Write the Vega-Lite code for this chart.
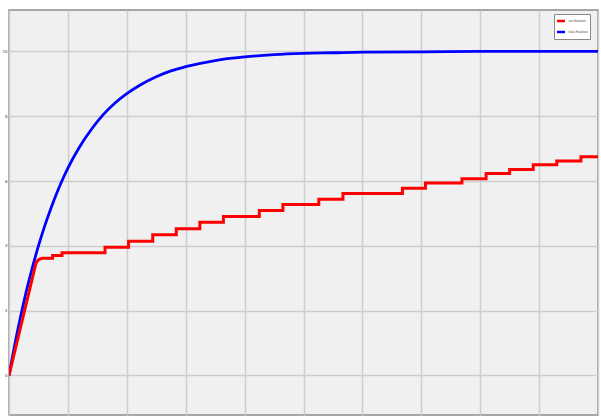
{
  "$schema": "https://vega.github.io/schema/vega-lite/v6.json",
  "width": 589,
  "height": 405,
  "autosize": {"type": "none"},
  "padding": {"left": 9, "top": 10, "right": 3, "bottom": 3},
  "background": "#ffffff",
  "config": {
    "view": {"fill": "#f0f0f0", "stroke": "#8c8c8c", "strokeWidth": 1.5},
    "axis": {
      "domain": false,
      "gridColor": "#cdcdcd",
      "gridWidth": 1.5,
      "ticks": false,
      "labelFont": "DejaVu Sans",
      "labelFontSize": 4,
      "labelColor": "#444444",
      "title": null
    }
  },
  "data": {
    "values": [
      {"series": "Soll-Position", "i": 0, "t": 0, "v": 0},
      {"series": "Soll-Position", "i": 1, "t": 0.1, "v": 0.97},
      {"series": "Soll-Position", "i": 2, "t": 0.2, "v": 1.85},
      {"series": "Soll-Position", "i": 3, "t": 0.3, "v": 2.64},
      {"series": "Soll-Position", "i": 4, "t": 0.4, "v": 3.35},
      {"series": "Soll-Position", "i": 5, "t": 0.5, "v": 4.0},
      {"series": "Soll-Position", "i": 6, "t": 0.6, "v": 4.58},
      {"series": "Soll-Position", "i": 7, "t": 0.7, "v": 5.1},
      {"series": "Soll-Position", "i": 8, "t": 0.8, "v": 5.58},
      {"series": "Soll-Position", "i": 9, "t": 0.9, "v": 6.01},
      {"series": "Soll-Position", "i": 10, "t": 1.0, "v": 6.4},
      {"series": "Soll-Position", "i": 11, "t": 1.2, "v": 7.06},
      {"series": "Soll-Position", "i": 12, "t": 1.4, "v": 7.6},
      {"series": "Soll-Position", "i": 13, "t": 1.6, "v": 8.05},
      {"series": "Soll-Position", "i": 14, "t": 1.8, "v": 8.41},
      {"series": "Soll-Position", "i": 15, "t": 2.0, "v": 8.7},
      {"series": "Soll-Position", "i": 16, "t": 2.25, "v": 8.99},
      {"series": "Soll-Position", "i": 17, "t": 2.5, "v": 9.22},
      {"series": "Soll-Position", "i": 18, "t": 2.75, "v": 9.4},
      {"series": "Soll-Position", "i": 19, "t": 3.0, "v": 9.53},
      {"series": "Soll-Position", "i": 20, "t": 3.5, "v": 9.72},
      {"series": "Soll-Position", "i": 21, "t": 4.0, "v": 9.83},
      {"series": "Soll-Position", "i": 22, "t": 4.5, "v": 9.9},
      {"series": "Soll-Position", "i": 23, "t": 5.0, "v": 9.94},
      {"series": "Soll-Position", "i": 24, "t": 5.5, "v": 9.96},
      {"series": "Soll-Position", "i": 25, "t": 6.0, "v": 9.98},
      {"series": "Soll-Position", "i": 26, "t": 7.0, "v": 9.99},
      {"series": "Soll-Position", "i": 27, "t": 8.0, "v": 10.0},
      {"series": "Soll-Position", "i": 28, "t": 9.0, "v": 10.0},
      {"series": "Soll-Position", "i": 29, "t": 10.0, "v": 10.0},

      {"series": "Ist-Position", "i": 0, "t": 0, "v": 0},
      {"series": "Ist-Position", "i": 1, "t": 0.46, "v": 3.48},
      {"series": "Ist-Position", "i": 2, "t": 0.5, "v": 3.57},
      {"series": "Ist-Position", "i": 3, "t": 0.56, "v": 3.62},
      {"series": "Ist-Position", "i": 4, "t": 0.74, "v": 3.62},
      {"series": "Ist-Position", "i": 5, "t": 0.74, "v": 3.7},
      {"series": "Ist-Position", "i": 6, "t": 0.9, "v": 3.7},
      {"series": "Ist-Position", "i": 7, "t": 0.9, "v": 3.79},
      {"series": "Ist-Position", "i": 8, "t": 1.63, "v": 3.79},
      {"series": "Ist-Position", "i": 9, "t": 1.63, "v": 3.96},
      {"series": "Ist-Position", "i": 10, "t": 2.03, "v": 3.96},
      {"series": "Ist-Position", "i": 11, "t": 2.03, "v": 4.14},
      {"series": "Ist-Position", "i": 12, "t": 2.44, "v": 4.14},
      {"series": "Ist-Position", "i": 13, "t": 2.44, "v": 4.34},
      {"series": "Ist-Position", "i": 14, "t": 2.84, "v": 4.34},
      {"series": "Ist-Position", "i": 15, "t": 2.84, "v": 4.53},
      {"series": "Ist-Position", "i": 16, "t": 3.24, "v": 4.53},
      {"series": "Ist-Position", "i": 17, "t": 3.24, "v": 4.73},
      {"series": "Ist-Position", "i": 18, "t": 3.64, "v": 4.73},
      {"series": "Ist-Position", "i": 19, "t": 3.64, "v": 4.91},
      {"series": "Ist-Position", "i": 20, "t": 4.25, "v": 4.91},
      {"series": "Ist-Position", "i": 21, "t": 4.25, "v": 5.09},
      {"series": "Ist-Position", "i": 22, "t": 4.65, "v": 5.09},
      {"series": "Ist-Position", "i": 23, "t": 4.65, "v": 5.28},
      {"series": "Ist-Position", "i": 24, "t": 5.26, "v": 5.28},
      {"series": "Ist-Position", "i": 25, "t": 5.26, "v": 5.44},
      {"series": "Ist-Position", "i": 26, "t": 5.67, "v": 5.44},
      {"series": "Ist-Position", "i": 27, "t": 5.67, "v": 5.62},
      {"series": "Ist-Position", "i": 28, "t": 6.68, "v": 5.62},
      {"series": "Ist-Position", "i": 29, "t": 6.68, "v": 5.78},
      {"series": "Ist-Position", "i": 30, "t": 7.07, "v": 5.78},
      {"series": "Ist-Position", "i": 31, "t": 7.07, "v": 5.94},
      {"series": "Ist-Position", "i": 32, "t": 7.69, "v": 5.94},
      {"series": "Ist-Position", "i": 33, "t": 7.69, "v": 6.07},
      {"series": "Ist-Position", "i": 34, "t": 8.1, "v": 6.07},
      {"series": "Ist-Position", "i": 35, "t": 8.1, "v": 6.23},
      {"series": "Ist-Position", "i": 36, "t": 8.5, "v": 6.23},
      {"series": "Ist-Position", "i": 37, "t": 8.5, "v": 6.36},
      {"series": "Ist-Position", "i": 38, "t": 8.9, "v": 6.36},
      {"series": "Ist-Position", "i": 39, "t": 8.9, "v": 6.5},
      {"series": "Ist-Position", "i": 40, "t": 9.3, "v": 6.5},
      {"series": "Ist-Position", "i": 41, "t": 9.3, "v": 6.62},
      {"series": "Ist-Position", "i": 42, "t": 9.71, "v": 6.62},
      {"series": "Ist-Position", "i": 43, "t": 9.71, "v": 6.75},
      {"series": "Ist-Position", "i": 44, "t": 10.0, "v": 6.75}
    ]
  },
  "encoding": {
    "x": {
      "field": "t",
      "type": "quantitative",
      "scale": {"domain": [0, 10], "nice": false, "zero": false},
      "axis": {"values": [0, 1, 2, 3, 4, 5, 6, 7, 8, 9, 10], "labels": false, "grid": true}
    },
    "y": {
      "field": "v",
      "type": "quantitative",
      "scale": {"domain": [-1.22, 11.28], "nice": false, "zero": false},
      "axis": {"values": [0, 2, 4, 6, 8, 10], "grid": true, "labelPadding": 2}
    },
    "order": {"field": "i", "type": "quantitative"},
    "color": {
      "field": "series",
      "type": "nominal",
      "scale": {"domain": ["Ist-Position", "Soll-Position"], "range": ["#ff0000", "#0000ff"]},
      "legend": {
        "title": null,
        "orient": "none",
        "legendX": 545,
        "legendY": 4,
        "symbolType": "stroke",
        "symbolSize": 64,
        "symbolStrokeWidth": 2.5,
        "labelFontSize": 3.2,
        "labelFont": "DejaVu Sans",
        "labelColor": "#333333",
        "labelOffset": 2,
        "labelLimit": 30,
        "rowPadding": 0,
        "padding": 1.5,
        "fillColor": "#ffffff",
        "strokeColor": "#888888"
      }
    }
  },
  "layer": [
    {
      "transform": [{"filter": "datum.series === 'Soll-Position'"}],
      "mark": {"type": "line", "strokeWidth": 2.8, "interpolate": "monotone", "clip": true}
    },
    {
      "transform": [{"filter": "datum.series === 'Ist-Position'"}],
      "mark": {"type": "line", "strokeWidth": 3, "strokeJoin": "miter", "clip": true}
    }
  ]
}
